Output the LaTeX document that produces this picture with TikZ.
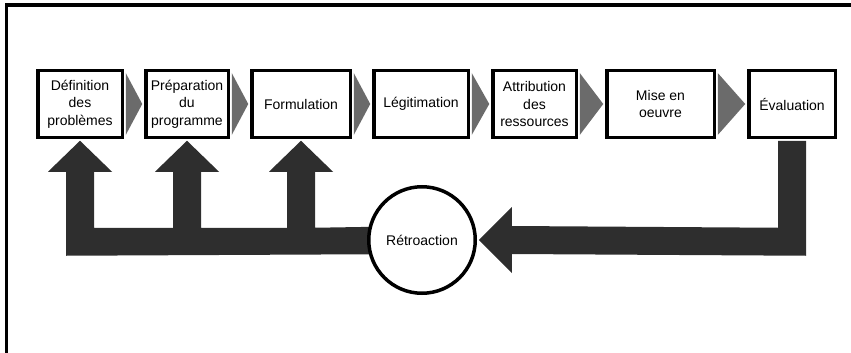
\documentclass[tikz,border=0pt]{standalone}
\usepackage{fontspec}
\setmainfont{Liberation Sans}
\usetikzlibrary{calc,backgrounds}
\begin{document}
\begin{tikzpicture}[x=1pt,y=-1pt,
  box/.style={draw,line width=3.5pt,fill=white,align=center,inner sep=0pt,
    minimum height=66.5,font=\fontsize{14}{17.5}\selectfont},
  flow/.style={fill=black!58},
  fb/.style={fill=black!82},
  frameline/.style={line width=3.5pt}]
\useasboundingbox (0,0) rectangle (851,353);
% frame
\coordinate (fa) at (6.5,353);
\coordinate (fb0) at (6.5,5);
\coordinate (fc) at (851,5);
\draw[frameline] (fa) -- (fb0) -- (fc);
% boxes
\node[box,minimum width=84.5] (d1) at (80,104) {Définition\\des\\problèmes};
\node[box,minimum width=82.5] (d2) at (187,104) {Préparation\\du\\programme};
\node[box,minimum width=98.5] (d3) at (301,104) {Formulation};
\node[box,minimum width=94.5] (d4) at (421,104) {Légitimation};
\node[box,minimum width=83.5] (d5) at (534.5,104) {Attribution\\des\\ressources};
\node[box,minimum width=107.5] (d6) at (660.5,104) {Mise en\\oeuvre};
\node[box,minimum width=86.5] (d7) at (792,104) {Évaluation};
% feedback circle
\node[draw,circle,line width=3.5pt,fill=white,minimum size=106.5,inner sep=0pt,
  font=\fontsize{14}{17}\selectfont] (rt) at (422,240) {Rétroaction};
% flow triangles
\foreach \a/\b in {d1/d2,d2/d3,d3/d4,d4/d5,d5/d6,d6/d7}{
  \fill[flow] ($(\a.east)+(1.75,-31)$) -- ($(\b.west)+(-1.75,0)$) -- ($(\a.east)+(1.75,31)$) -- cycle;
}
% tips
\path (d1.south) ++(0,1.75) coordinate (t1);
\path (d2.south) ++(0,1.75) coordinate (t2);
\path (d3.south) ++(0,1.75) coordinate (t3);
\path (d7.south) ++(0,1.75) coordinate (e1);
\path (rt.east) ++(1.75,0) coordinate (tr);
\begin{scope}[on background layer]
% left feedback to the three first stages
\fill[fb] ($(t1)+(-14,115)$) -- ($(t1)+(-14,31)$) -- ($(t1)+(-32,31)$) -- (t1)
  -- ($(t1)+(32,31)$) -- ($(t1)+(14,31)$) -- ($(t1)+(14,87)$)
  -- ($(t2)+(-14,87)$) -- ($(t2)+(-14,31)$) -- ($(t2)+(-32,31)$) -- (t2)
  -- ($(t2)+(32,31)$) -- ($(t2)+(14,31)$) -- ($(t2)+(14,87)$)
  -- ($(t3)+(-14,87)$) -- ($(t3)+(-14,31)$) -- ($(t3)+(-32,31)$) -- (t3)
  -- ($(t3)+(32,31)$) -- ($(t3)+(14,31)$) -- ($(t3)+(14,87)$)
  -- ($(rt.center)+(0,-14)$) -- ($(rt.center)+(0,14)$) -- cycle;
% right feedback from evaluation
\fill[fb] ($(e1)+(-14,0)$) -- ($(e1)+(14,0)$) -- ($(e1)+(14,115)$)
  -- ($(tr)+(33,14)$) -- ($(tr)+(33,33)$) -- (tr) -- ($(tr)+(33,-33)$)
  -- ($(tr)+(33,-14)$) -- ($(e1)+(-14,87)$) -- cycle;
\end{scope}
\end{tikzpicture}
\end{document}
